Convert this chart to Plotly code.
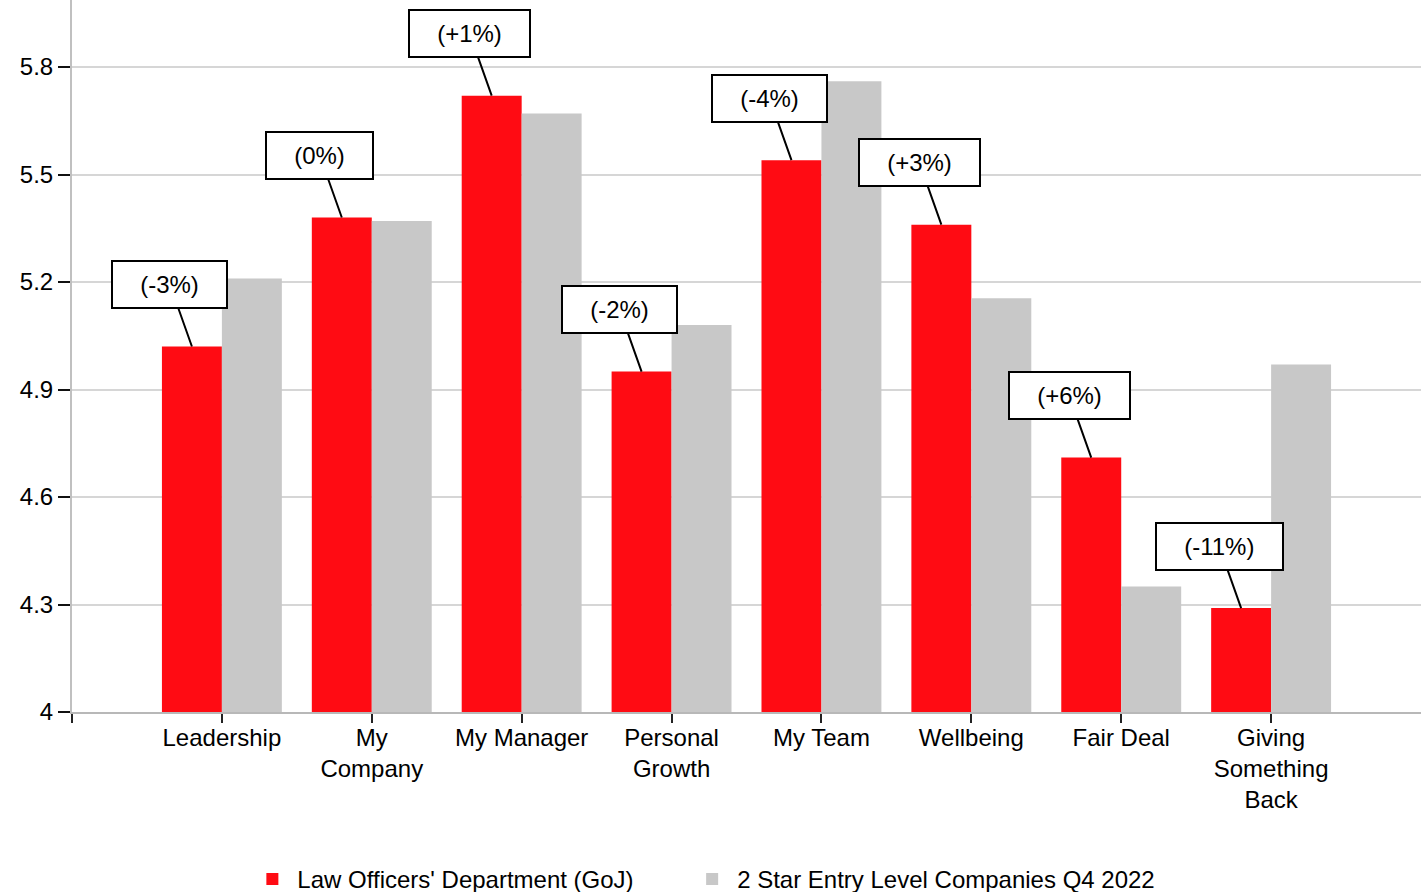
import plotly.graph_objects as go

categories = ["Leadership", "My<br>Company", "My Manager", "Personal<br>Growth",
              "My Team", "Wellbeing", "Fair Deal", "Giving<br>Something<br>Back"]
law_officers = [5.02, 5.38, 5.72, 4.95, 5.54, 5.36, 4.71, 4.29]
star2_q4_2022 = [5.21, 5.37, 5.67, 5.08, 5.76, 5.155, 4.35, 4.97]
diff_labels = ["(-3%)", "(0%)", "(+1%)", "(-2%)", "(-4%)", "(+3%)", "(+6%)", "(-11%)"]
y_ticks = [4, 4.3, 4.6, 4.9, 5.2, 5.5, 5.8]

FONT = "Liberation Sans, Arial, sans-serif"
RED = "#ff0b13"
GREY = "#c8c8c8"
FS = 24

idx = list(range(len(categories)))

fig = go.Figure()
fig.add_trace(go.Bar(x=idx, y=law_officers, name="Law Officers' Department (GoJ)",
                     marker=dict(color=RED, line=dict(width=0)), legend="legend"))
fig.add_trace(go.Bar(x=idx, y=star2_q4_2022, name="2 Star Entry Level Companies Q4 2022",
                     marker=dict(color=GREY, line=dict(width=0)), legend="legend2"))

pad = "\u00a0\u00a0\u2009"
for i, (v, lab) in enumerate(zip(law_officers, diff_labels)):
    fig.add_annotation(
        x=i - 0.2, y=v, xref="x", yref="y",
        text=pad + lab + pad,
        showarrow=True, arrowhead=0, arrowwidth=2, arrowcolor="#000000",
        ax=-22, ay=-62,
        font=dict(family=FONT, size=FS, color="#000000"),
        bgcolor="#ffffff", bordercolor="#000000", borderwidth=2, borderpad=9,
    )

legend_common = dict(orientation="h", xanchor="left", y=-0.235, yanchor="middle",
                     font=dict(family=FONT, size=FS, color="#000000"),
                     itemwidth=40, bgcolor="rgba(0,0,0,0)")

fig.update_layout(
    width=1421, height=892,
    margin=dict(l=72, r=0, t=0, b=180, autoexpand=False),
    paper_bgcolor="#ffffff", plot_bgcolor="#ffffff",
    barmode="group", bargap=0.2, bargroupgap=0,
    font=dict(family=FONT, size=FS, color="#000000"),
    showlegend=True,
    legend=dict(x=0.13, **legend_common),
    legend2=dict(x=0.456, **legend_common),
)
fig.update_xaxes(
    range=[-1, 8], automargin=False,
    tickmode="array", tickvals=[-1] + idx, ticktext=[""] + categories,
    ticks="outside", ticklen=9, tickwidth=2, tickcolor="#222222",
    ticklabelstandoff=-6,
    showline=True, linecolor="#b8b8b8", linewidth=2,
    showgrid=False, zeroline=False,
    tickfont=dict(family=FONT, size=FS, color="#000000"),
)
fig.update_yaxes(
    range=[4, 5.987], automargin=False,
    tickmode="array", tickvals=y_ticks, ticktext=[f"{t:g}" for t in y_ticks],
    ticks="outside", ticklen=12, tickwidth=2, tickcolor="#111111",
    showline=True, linecolor="#c0c0c0", linewidth=2,
    showgrid=True, gridcolor="#d6d6d6", gridwidth=1.5, zeroline=False,
    tickfont=dict(family=FONT, size=FS, color="#000000"),
)

fig.write_html(
    "out.html",
    config={"displayModeBar": False},
    post_script="document.body.style.margin='0';document.body.style.padding='0';"
                "document.documentElement.style.overflow='hidden';",
)
